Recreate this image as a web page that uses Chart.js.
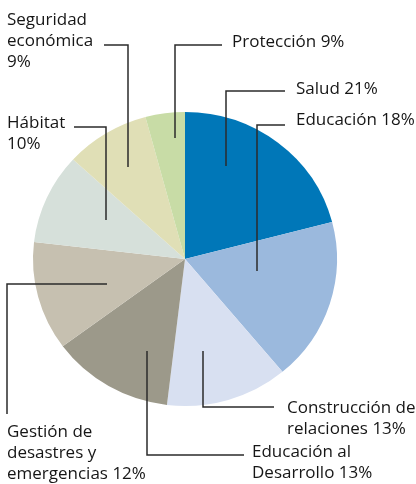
<!DOCTYPE html>
<html lang="es">
<head>
<meta charset="UTF-8">
<title>Distribución por sector</title>
<script src="https://cdn.jsdelivr.net/npm/chart.js"></script>
<style>
    html, body { margin: 0; padding: 0; background: #fff; }
    #wrap { width: 416px; height: 484px; }
</style>
</head>
<body>
<div id="wrap"><canvas id="pie" width="416" height="484"></canvas></div>
<script>
    // Sectores, en orden horario desde las 12
    const sectores = ['Salud', 'Educación', 'Construcción de relaciones', 'Educación al Desarrollo',
        'Gestión de desastres y emergencias', 'Hábitat', 'Seguridad económica', 'Protección'];
    // tamaño de cada porción tal como se ve en el gráfico
    const valores = [21, 18, 13, 13, 12, 10, 9, 4.2];
    // porcentajes que aparecen en las etiquetas
    const etiquetasPct = ['21%', '18%', '13%', '13%', '12%', '10%', '9%', '9%'];
    const colores = ['#0077b8', '#9bb9dd', '#d8e0f1', '#9c998a', '#c6c0b0', '#d6e0da', '#e0dfb6', '#c8dca6'];

    // texto de cada etiqueta (líneas), posición del texto y trazo de la guía
    const rotulos = [
        { lineas: ['Salud 21%'], x: 296, y: 94, guia: [[226, 166], [226, 91], [285, 91]] },
        { lineas: ['Educación 18%'], x: 296, y: 125, guia: [[257, 271], [257, 125], [285, 125]] },
        { lineas: ['Construcción de', 'relaciones 13%'], x: 287, y: 413, guia: [[203, 351], [203, 407], [274, 407]] },
        { lineas: ['Educación al', 'Desarrollo 13%'], x: 252, y: 457, guia: [[147, 351], [147, 455], [244, 455]] },
        { lineas: ['Gestión de', 'desastres y', 'emergencias 12%'], x: 7, y: 437, guia: [[107, 284], [7, 284], [7, 414]] },
        { lineas: ['Hábitat', '10%'], x: 7, y: 128, guia: [[106, 220], [106, 127], [74, 127]] },
        { lineas: ['Seguridad', 'económica', '9%'], x: 7, y: 25, guia: [[128, 167], [128, 45], [104, 45]] },
        { lineas: ['Protección 9%'], x: 232, y: 47, guia: [[175, 138], [175, 45], [222, 45]] }
    ];

    // el círculo original es un poco más ancho que alto
    const estirar = {
        id: 'estirar',
        beforeDatasetsDraw(chart) {
            const arc = chart.getDatasetMeta(0).data[0];
            const c = chart.ctx;
            c.save();
            c.translate(arc.x, arc.y);
            c.scale(1.034, 1);
            c.translate(-arc.x, -arc.y);
        },
        afterDatasetsDraw(chart) {
            chart.ctx.restore();
        }
    };

    const guias = {
        id: 'guias',
        afterDraw(chart) {
            const c = chart.ctx;
            c.save();
            c.strokeStyle = '#2b2b2b';
            c.lineWidth = 1.5;
            c.fillStyle = '#161616';
            c.font = '17px "Open Sans"';
            c.textBaseline = 'alphabetic';
            rotulos.forEach(r => {
                c.beginPath();
                r.guia.forEach((p, i) => i ? c.lineTo(p[0], p[1]) : c.moveTo(p[0], p[1]));
                c.stroke();
                r.lineas.forEach((t, i) => c.fillText(t, r.x, r.y + i * 21));
            });
            c.restore();
        }
    };

    new Chart(document.getElementById('pie'), {
        type: 'pie',
        data: {
            labels: sectores,
            datasets: [{
                data: valores,
                backgroundColor: colores,
                borderWidth: 0
            }]
        },
        options: {
            responsive: false,
            animation: false,
            layout: { padding: { left: 38, right: 84, top: 112, bottom: 78 } },
            plugins: {
                legend: { display: false },
                tooltip: { enabled: false }
            }
        },
        plugins: [estirar, guias]
    });
</script>
</body>
</html>
